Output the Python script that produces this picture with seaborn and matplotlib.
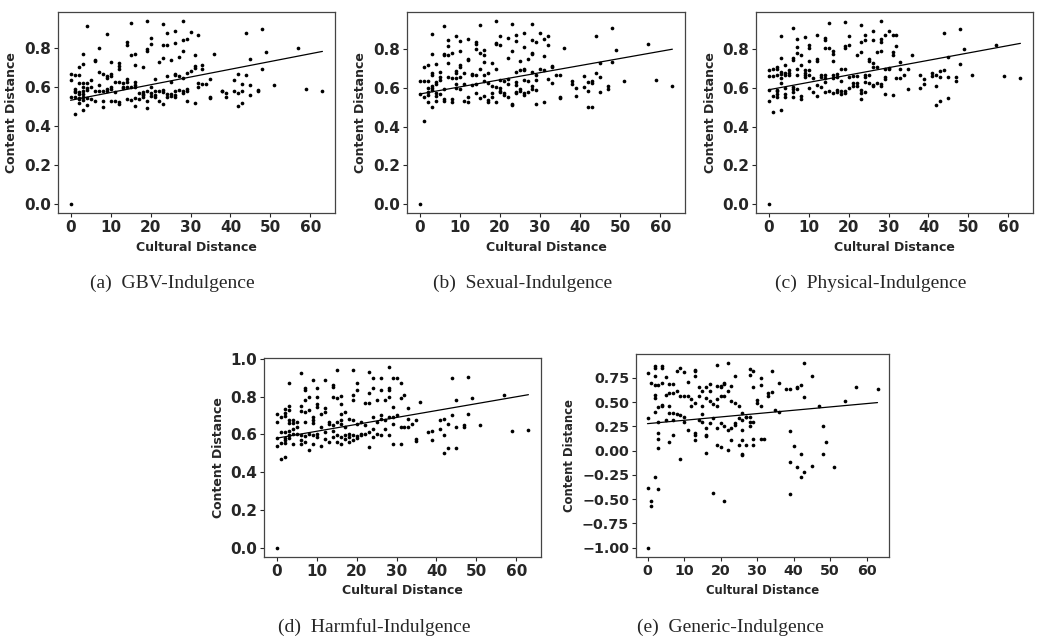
import numpy as np
import pandas as pd
import matplotlib
matplotlib.use("Agg")
import matplotlib.pyplot as plt
from matplotlib.ticker import MultipleLocator
import seaborn as sns

# (cultural distance, content distance)
gbv_pts = [(0,0.0),(0,0.666),(0,0.632),(0,0.547),(1,0.66),(1,0.588),(1,0.571),(1,0.461),(2,0.66),(2,0.698),
    (2,0.619),(2,0.563),(2,0.537),(2,0.517),(3,0.766),(3,0.717),(3,0.619),(3,0.56),(3,0.534),(3,0.48),
    (4,0.91),(15,0.925),(19,0.935),(23,0.92),(28,0.935),(9,0.87),(24,0.875),(26,0.885),(30,0.88),(32,0.865),
    (44,0.875),(48,0.895),(7,0.80),(14,0.83),(14,0.815),(20,0.85),(20,0.82),(23,0.815),(24,0.815),(26,0.825),
    (28,0.84),(29,0.845),(19,0.79),(19,0.78),(28,0.78),(57,0.795),(49,0.775),(15,0.76),(16,0.765),(31,0.76),
    (36,0.765),(6,0.735),(6,0.73),(10,0.725),(12,0.72),(12,0.705),(12,0.69),(16,0.71),(18,0.70),(22,0.725),
    (23,0.745),(25,0.735),(27,0.75),(31,0.705),(31,0.695),(33,0.71),(33,0.69),(45,0.74),(48,0.69),(30,0.68),
    (29,0.67),(7,0.675),(8,0.665),(9,0.655),(9,0.645),(10,0.665),(10,0.655),(11,0.625),(12,0.625),(5,0.635),
    (7,0.61),(14,0.64),(14,0.625),(16,0.625),(21,0.64),(24,0.655),(25,0.625),(26,0.665),(26,0.66),(27,0.655),
    (28,0.645),(32,0.62),(33,0.615),(34,0.615),(35,0.64),(41,0.635),(42,0.665),(43,0.615),(44,0.66),(4,0.62),
    (13,0.62),(1,0.58),(2,0.57),(3,0.6),(3,0.58),(4,0.595),(4,0.585),(5,0.6),(6,0.575),(7,0.575),
    (8,0.58),(9,0.59),(9,0.58),(10,0.6),(10,0.59),(11,0.57),(13,0.6),(13,0.595),(14,0.6),(15,0.6),
    (16,0.61),(16,0.6),(17,0.565),(18,0.57),(18,0.555),(19,0.58),(20,0.6),(20,0.565),(21,0.575),(21,0.555),
    (22,0.575),(23,0.585),(23,0.57),(24,0.56),(25,0.56),(26,0.575),(26,0.555),(27,0.585),(28,0.575),(28,0.565),
    (29,0.59),(29,0.58),(38,0.58),(38,0.575),(39,0.565),(41,0.58),(42,0.565),(43,0.575),(45,0.61),(47,0.585),
    (47,0.58),(51,0.61),(59,0.59),(63,0.575),(32,0.6),(1,0.545),(2,0.54),(3,0.545),(4,0.54),(4,0.505),
    (5,0.535),(6,0.525),(8,0.525),(8,0.495),(10,0.525),(11,0.525),(12,0.52),(12,0.51),(14,0.535),(15,0.53),
    (16,0.54),(16,0.50),(17,0.535),(18,0.545),(19,0.525),(19,0.49),(20,0.55),(21,0.545),(22,0.525),(23,0.51),
    (24,0.545),(25,0.55),(26,0.545),(29,0.525),(31,0.515),(35,0.545),(35,0.54),(39,0.545),(42,0.50),(43,0.515),
    (45,0.555),(18,0.56)]

sexual_pts = [(0,0.0),(1,0.43),(6,0.92),(15,0.925),(19,0.945),(23,0.93),(28,0.93),(3,0.88),(9,0.87),(26,0.885),
    (30,0.885),(22,0.86),(24,0.875),(32,0.87),(44,0.87),(48,0.91),(20,0.87),(7,0.85),(7,0.815),(10,0.84),
    (12,0.855),(14,0.835),(14,0.825),(14,0.80),(15,0.78),(16,0.795),(16,0.77),(19,0.83),(19,0.825),(20,0.82),
    (23,0.79),(24,0.84),(26,0.81),(28,0.845),(28,0.78),(28,0.775),(29,0.835),(31,0.855),(32,0.82),(31,0.765),
    (36,0.805),(49,0.795),(57,0.825),(3,0.775),(6,0.775),(6,0.77),(7,0.77),(8,0.78),(10,0.79),(48,0.735),
    (1,0.71),(2,0.72),(4,0.725),(5,0.68),(3,0.675),(3,0.665),(7,0.73),(9,0.685),(9,0.675),(10,0.72),
    (10,0.71),(11,0.675),(12,0.75),(12,0.745),(13,0.67),(13,0.665),(14,0.665),(15,0.70),(16,0.735),(16,0.665),
    (17,0.675),(18,0.73),(19,0.695),(22,0.755),(24,0.68),(25,0.69),(25,0.74),(26,0.70),(26,0.69),(27,0.75),
    (28,0.68),(29,0.665),(30,0.70),(31,0.69),(33,0.715),(33,0.71),(34,0.665),(35,0.665),(44,0.675),(45,0.73),
    (45,0.655),(41,0.66),(5,0.655),(0,0.635),(1,0.635),(2,0.635),(2,0.60),(3,0.61),(3,0.60),(4,0.63),
    (4,0.62),(5,0.64),(7,0.655),(8,0.65),(9,0.65),(9,0.62),(10,0.655),(11,0.62),(13,0.615),(14,0.62),
    (16,0.635),(17,0.625),(18,0.61),(19,0.605),(20,0.64),(20,0.60),(21,0.635),(22,0.645),(22,0.62),(24,0.63),
    (24,0.615),(26,0.64),(27,0.635),(28,0.61),(29,0.64),(32,0.645),(33,0.625),(38,0.635),(38,0.62),(39,0.60),
    (42,0.63),(43,0.635),(43,0.625),(47,0.61),(59,0.64),(51,0.635),(63,0.61),(0,0.57),(1,0.555),(2,0.58),
    (2,0.565),(2,0.525),(3,0.5),(3,0.59),(4,0.575),(4,0.56),(4,0.53),(5,0.57),(6,0.595),(6,0.54),
    (6,0.53),(8,0.54),(8,0.525),(9,0.60),(10,0.595),(11,0.53),(12,0.555),(12,0.525),(14,0.575),(15,0.545),
    (16,0.56),(17,0.535),(17,0.525),(18,0.575),(18,0.555),(19,0.525),(20,0.585),(20,0.58),(21,0.575),(21,0.565),
    (22,0.555),(23,0.515),(23,0.51),(24,0.58),(24,0.575),(25,0.595),(25,0.585),(26,0.575),(26,0.565),(27,0.58),
    (28,0.595),(29,0.59),(29,0.515),(31,0.525),(35,0.555),(35,0.55),(39,0.56),(41,0.605),(42,0.50),(43,0.50),
    (45,0.58),(47,0.595),(42,0.585)]

physical_pts = [(0,0.0),(0,0.53),(0,0.59),(0,0.66),(0,0.69),(1,0.70),(1,0.66),(1,0.56),(1,0.475),(2,0.71),
    (2,0.70),(2,0.665),(2,0.59),(2,0.585),(2,0.57),(2,0.555),(3,0.87),(3,0.755),(3,0.68),(3,0.67),
    (3,0.65),(3,0.625),(3,0.485),(4,0.72),(4,0.675),(4,0.665),(4,0.6),(4,0.57),(4,0.555),(5,0.69),
    (5,0.675),(5,0.665),(6,0.91),(6,0.755),(6,0.745),(6,0.605),(6,0.595),(6,0.58),(6,0.555),(7,0.855),
    (7,0.81),(7,0.78),(7,0.695),(7,0.665),(7,0.595),(8,0.77),(8,0.72),(8,0.56),(8,0.54),(9,0.865),
    (9,0.69),(9,0.675),(9,0.665),(9,0.655),(10,0.82),(10,0.805),(10,0.74),(10,0.69),(10,0.665),(10,0.60),
    (11,0.65),(11,0.58),(12,0.875),(12,0.75),(12,0.74),(12,0.615),(12,0.56),(13,0.665),(13,0.655),(13,0.605),
    (14,0.86),(14,0.845),(14,0.805),(14,0.665),(14,0.65),(14,0.63),(14,0.58),(15,0.935),(15,0.805),(15,0.585),
    (16,0.79),(16,0.775),(16,0.74),(16,0.665),(16,0.65),(16,0.575),(17,0.67),(17,0.655),(17,0.59),(17,0.58),
    (18,0.70),(18,0.635),(18,0.585),(18,0.57),(19,0.94),(19,0.815),(19,0.805),(19,0.695),(19,0.585),(19,0.575),
    (20,0.87),(20,0.82),(20,0.655),(20,0.60),(21,0.66),(21,0.625),(21,0.61),(22,0.77),(22,0.66),(22,0.625),
    (22,0.61),(23,0.925),(23,0.835),(23,0.785),(23,0.59),(23,0.575),(23,0.54),(24,0.875),(24,0.85),(24,0.665),
    (24,0.655),(24,0.63),(24,0.58),(25,0.75),(25,0.74),(25,0.665),(25,0.625),(26,0.895),(26,0.85),(26,0.73),
    (26,0.71),(26,0.615),(26,0.61),(27,0.785),(27,0.71),(27,0.625),(28,0.945),(28,0.855),(28,0.835),(28,0.79),
    (28,0.62),(28,0.61),(29,0.875),(29,0.70),(29,0.655),(29,0.645),(29,0.57),(30,0.895),(30,0.705),(30,0.70),
    (31,0.875),(31,0.785),(31,0.77),(31,0.565),(32,0.875),(32,0.815),(32,0.65),(33,0.735),(33,0.70),(33,0.65),
    (34,0.665),(35,0.595),(35,0.695),(36,0.77),(38,0.665),(38,0.60),(39,0.645),(39,0.62),(41,0.675),(41,0.66),
    (42,0.665),(42,0.61),(42,0.51),(43,0.685),(43,0.655),(43,0.53),(44,0.885),(44,0.69),(45,0.76),(45,0.655),
    (45,0.55),(47,0.655),(47,0.635),(48,0.905),(48,0.725),(49,0.80),(51,0.665),(57,0.82),(59,0.66),(63,0.65)]

harmful_pts = [(0,0.0),(0,0.71),(0,0.666),(0,0.58),(0,0.54),(1,0.613),(1,0.556),(1,0.47),(1,0.693),(2,0.733),
    (2,0.714),(2,0.696),(2,0.613),(2,0.583),(2,0.568),(2,0.556),(2,0.48),(3,0.87),(3,0.751),(3,0.73),
    (3,0.678),(3,0.66),(3,0.62),(3,0.595),(3,0.58),(4,0.678),(4,0.66),(4,0.63),(4,0.604),(4,0.55),
    (5,0.666),(5,0.64),(5,0.604),(6,0.924),(6,0.751),(6,0.725),(6,0.595),(6,0.568),(6,0.55),(7,0.844),
    (7,0.835),(7,0.78),(7,0.716),(7,0.666),(7,0.59),(7,0.56),(8,0.80),(8,0.728),(8,0.604),(8,0.515),
    (9,0.888),(9,0.693),(9,0.675),(9,0.66),(9,0.595),(9,0.55),(10,0.844),(10,0.80),(10,0.76),(10,0.746),
    (10,0.604),(10,0.586),(11,0.71),(11,0.64),(11,0.54),(12,0.89),(12,0.737),(12,0.72),(12,0.613),(12,0.577),
    (13,0.666),(13,0.657),(13,0.56),(14,0.86),(14,0.853),(14,0.80),(14,0.648),(14,0.62),(14,0.586),(15,0.94),
    (15,0.79),(15,0.666),(15,0.595),(15,0.56),(16,0.803),(16,0.76),(16,0.71),(16,0.675),(16,0.657),(16,0.586),
    (16,0.55),(17,0.72),(17,0.64),(17,0.595),(17,0.577),(18,0.684),(18,0.604),(18,0.586),(18,0.56),(19,0.94),
    (19,0.808),(19,0.78),(19,0.675),(19,0.595),(19,0.568),(20,0.87),(20,0.835),(20,0.657),(20,0.59),(20,0.583),
    (21,0.666),(21,0.604),(21,0.595),(22,0.764),(22,0.648),(22,0.604),(23,0.929),(23,0.817),(23,0.764),(23,0.613),
    (23,0.536),(24,0.897),(24,0.844),(24,0.693),(24,0.63),(24,0.586),(25,0.78),(25,0.666),(25,0.604),(26,0.897),
    (26,0.835),(26,0.70),(26,0.684),(26,0.595),(27,0.78),(27,0.675),(27,0.63),(28,0.956),(28,0.844),(28,0.835),
    (28,0.80),(28,0.693),(28,0.595),(29,0.897),(29,0.746),(29,0.693),(29,0.657),(29,0.55),(30,0.897),(30,0.70),
    (31,0.87),(31,0.79),(31,0.64),(31,0.55),(32,0.808),(32,0.64),(33,0.737),(33,0.684),(33,0.64),(34,0.657),
    (35,0.675),(35,0.577),(35,0.565),(36,0.772),(38,0.613),(39,0.62),(39,0.568),(41,0.675),(41,0.63),(42,0.684),
    (42,0.595),(42,0.50),(43,0.657),(43,0.53),(44,0.897),(44,0.70),(45,0.78),(45,0.64),(45,0.53),(47,0.648),
    (47,0.64),(48,0.902),(48,0.707),(49,0.79),(51,0.648),(57,0.808),(59,0.62),(63,0.625)]

generic_pts = [(0,-1.0),(0,0.80),(2,0.876),(2,0.852),(4,0.876),(4,0.85),(2,0.77),(1,0.70),(2,0.68),(3,0.68),
    (4,0.70),(5,0.76),(6,0.69),(7,0.69),(8,0.82),(9,0.85),(10,0.81),(11,0.71),(13,0.82),(13,0.83),
    (13,0.765),(14,0.66),(15,0.61),(16,0.66),(17,0.69),(19,0.885),(19,0.67),(20,0.67),(20,0.66),(21,0.69),
    (22,0.90),(21,0.70),(22,0.61),(23,0.67),(24,0.77),(28,0.84),(28,0.78),(29,0.82),(29,0.66),(31,0.75),
    (31,0.68),(34,0.60),(34,0.82),(36,0.70),(38,0.635),(39,0.63),(41,0.645),(41,0.66),(42,0.68),(43,0.90),
    (43,0.55),(45,0.765),(47,0.46),(54,0.51),(57,0.66),(63,0.63),(2,0.575),(2,0.54),(2,0.40),(3,0.445),
    (4,0.455),(4,0.465),(5,0.575),(6,0.595),(6,0.455),(6,0.385),(7,0.59),(7,0.385),(8,0.61),(8,0.38),
    (9,0.565),(9,0.37),(10,0.565),(10,0.35),(11,0.56),(12,0.53),(12,0.455),(13,0.49),(14,0.56),(15,0.455),
    (15,0.38),(16,0.54),(17,0.61),(17,0.51),(18,0.48),(19,0.53),(19,0.455),(20,0.56),(21,0.565),(23,0.51),
    (24,0.49),(25,0.455),(26,0.385),(27,0.35),(28,0.35),(30,0.525),(30,0.495),(31,0.455),(33,0.59),(33,0.565),
    (35,0.42),(36,0.40),(0,0.335),(3,0.30),(5,0.315),(7,0.315),(10,0.30),(11,0.21),(13,0.185),(14,0.315),
    (15,0.30),(16,0.23),(17,0.28),(18,0.335),(19,0.23),(20,0.28),(21,0.25),(22,0.21),(23,0.23),(24,0.265),
    (24,0.28),(25,0.335),(26,0.315),(27,0.35),(28,0.30),(29,0.29),(28,0.25),(3,0.18),(3,0.12),(3,0.025),
    (6,0.085),(7,0.16),(13,0.16),(13,0.11),(16,0.16),(16,0.15),(16,-0.02),(19,0.06),(20,0.04),(22,0.005),
    (23,0.11),(25,0.06),(26,-0.03),(26,-0.045),(26,0.21),(26,0.11),(27,0.06),(29,0.12),(29,0.06),(31,0.12),
    (32,0.12),(39,0.205),(40,0.05),(42,-0.035),(48,0.25),(49,0.085),(48,-0.035),(9,-0.09),(39,-0.115),(41,-0.17),
    (42,-0.275),(43,-0.225),(45,-0.155),(51,-0.17),(0,-0.38),(2,-0.27),(3,-0.40),(1,-0.515),(1,-0.57),(18,-0.44),
    (21,-0.515),(39,-0.45)]

# regression lines: (intercept, slope)
gbv_fit = (0.530, 0.00397)
sexual_fit = (0.568, 0.00368)
physical_fit = (0.590, 0.00381)
harmful_fit = (0.580, 0.00365)
generic_fit = (0.278, 0.00344)

captions = ["(a)  GBV-Indulgence", "(b)  Sexual-Indulgence", "(c)  Physical-Indulgence",
            "(d)  Harmful-Indulgence", "(e)  Generic-Indulgence"]
ytick_steps = [0.2, 0.2, 0.2, 0.2, 0.25]

sns.set_style("ticks")
plt.rcParams['font.family'] = ['DejaVu Sans']
plt.rcParams['font.weight'] = 'bold'
plt.rcParams['axes.labelweight'] = 'bold'

W, H = 1044, 637
fig = plt.figure(figsize=(W / 100, H / 100), dpi=100)

# axes boxes in pixels: left, top, right, bottom ; font scale ; caption centre
boxes = [(58, 12, 335, 213, 1.0, (172, 283)),
         (407, 12, 685, 213, 1.0, (523, 283)),
         (756, 12, 1033, 213, 1.0, (871, 283)),
         (264, 358, 541, 557, 1.0, (374, 627)),
         (636, 354, 889, 557, 0.93, (730, 627))]
datasets = [gbv_pts, sexual_pts, physical_pts, harmful_pts, generic_pts]
fits = [gbv_fit, sexual_fit, physical_fit, harmful_fit, generic_fit]

for pts, fit, box, cap, ystep in zip(datasets, fits, boxes, captions, ytick_steps):
    l, t, r, b, fs, (cx, cy) = box
    ax = fig.add_axes([l / W, 1 - b / H, (r - l) / W, (b - t) / H])
    df = pd.DataFrame(pts, columns=["cultural", "content"])
    sns.scatterplot(data=df, x="cultural", y="content", ax=ax, s=7, color="black",
                    linewidth=0, zorder=3)
    xs = np.array([df.cultural.min(), df.cultural.max()])
    ax.plot(xs, fit[0] + fit[1] * xs, color="black", lw=0.9)
    ax.xaxis.set_major_locator(MultipleLocator(10))
    ax.yaxis.set_major_locator(MultipleLocator(ystep))
    ax.set_xlabel("Cultural Distance", fontsize=9 * fs, fontweight="bold")
    ax.set_ylabel("Content Distance", fontsize=9 * fs, fontweight="bold")
    ax.tick_params(length=3, width=0.8, pad=2, labelsize=11 * fs)
    for sp in ax.spines.values():
        sp.set_color("#444444")
        sp.set_linewidth(0.9)
    fig.text(cx / W, 1 - cy / H, cap, ha="center", va="center",
             family="Liberation Serif", fontweight="normal", fontsize=14)

fig.savefig("out.png", dpi=100)
